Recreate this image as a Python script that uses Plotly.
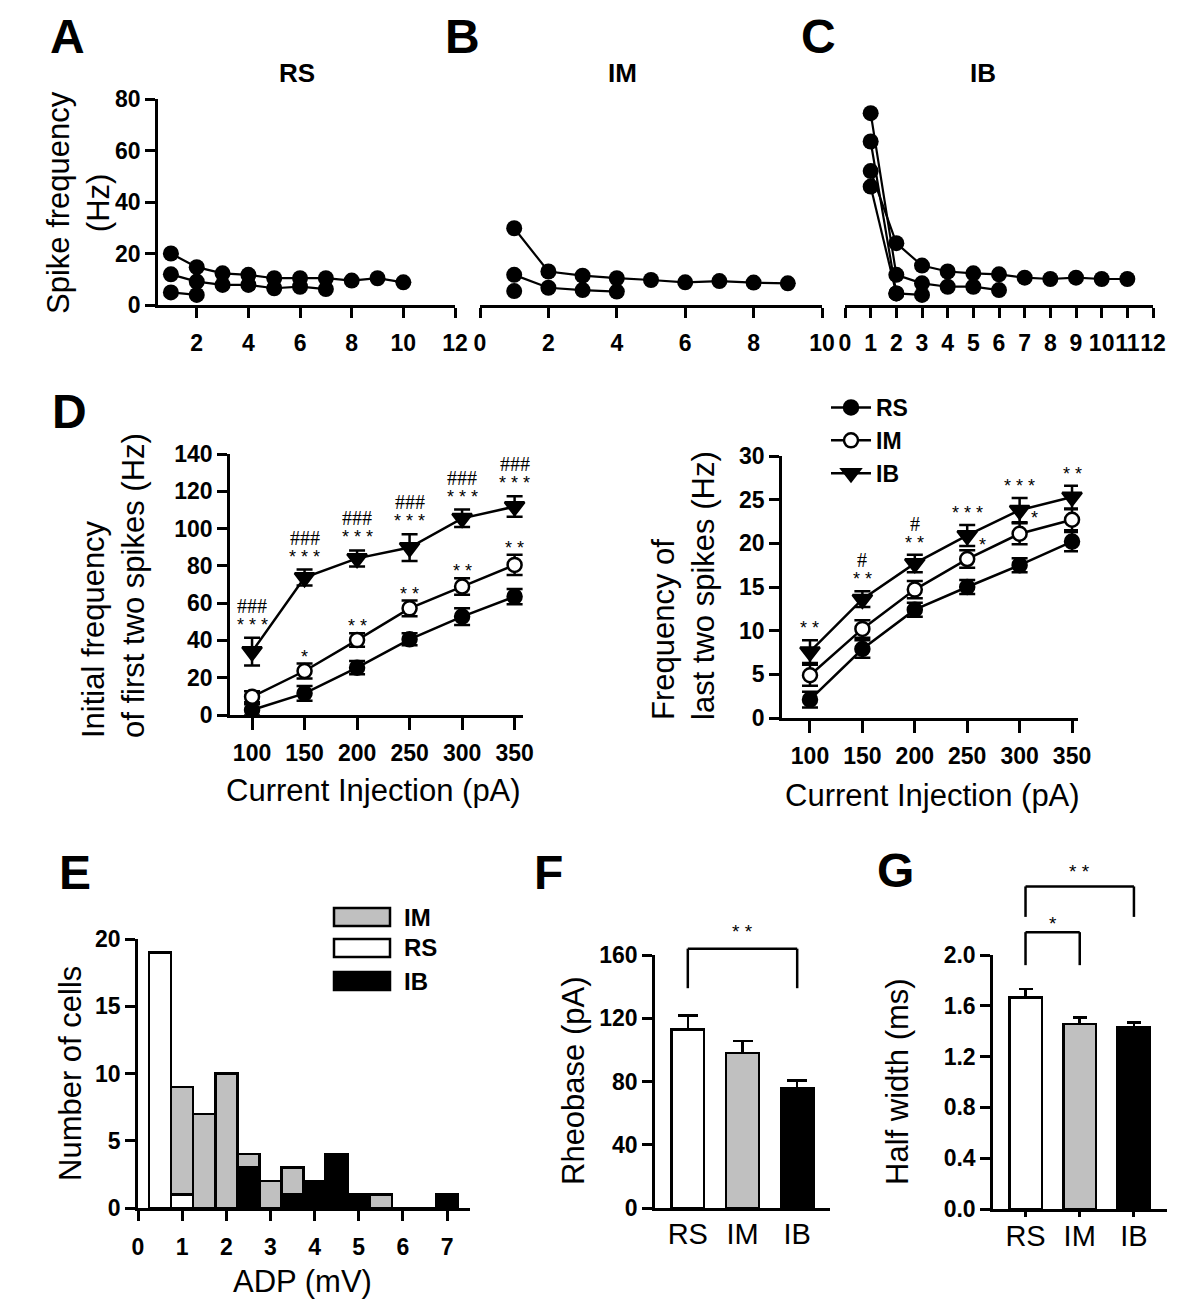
import plotly.graph_objects as go

W, H = 1200, 1316
OFF = 8  # default page body margin in the written html
FONT = "Arial, Liberation Sans, sans-serif"
SERIF = "Liberation Serif, Times New Roman, serif"

# ---------------- data ----------------
# Panels A-C: spike frequency vs spike interval number, example cells
spike_idx = list(range(1, 13))
rs_cells = [
    [20.0, 14.7, 12.3, 11.7, 10.4, 10.4, 10.4, 9.5, 10.4, 8.8],
    [11.9, 9.1, 7.8, 7.8, 6.5, 7.1, 6.2],
    [4.9, 3.9],
]
im_cells = [
    [29.8, 13.0, 11.4, 10.4, 9.7, 8.8, 9.3, 8.7, 8.4],
    [11.7, 6.7, 5.8, 5.2],
    [5.4],
]
ib_cells = [
    [52.0, 24.0, 15.3, 13.0, 12.3, 11.9, 10.6, 10.1, 10.6, 10.1, 10.1],
    [74.5, 11.7, 8.4, 7.1, 7.1, 5.8],
    [63.5, 4.5, 3.9],
    [46.0, 4.5],
]

# Panel D
current = [100, 150, 200, 250, 300, 350]
d1_rs = [2.7, 11.6, 25.4, 40.6, 52.8, 63.5]
d1_rs_err = [3.0, 4.0, 3.6, 3.2, 4.5, 4.1]
d1_im = [9.8, 23.6, 40.2, 57.2, 68.9, 80.5]
d1_im_err = [3.0, 4.0, 3.6, 4.2, 4.4, 5.4]
d1_ib = [34.0, 73.7, 84.0, 89.8, 105.5, 111.8]
d1_ib_err = [7.5, 4.3, 4.3, 7.2, 4.7, 5.5]
d1_ib_hash = ["###", "###", "###", "###", "###", "###"]
d1_ib_star = ["***", "***", "***", "***", "***", "***"]
d1_im_star = ["", "*", "**", "**", "**", "**"]

d2_rs = [2.1, 7.9, 12.4, 15.0, 17.5, 20.2]
d2_rs_err = [0.9, 1.0, 0.8, 0.8, 0.8, 1.1]
d2_im = [4.9, 10.2, 14.7, 18.2, 21.1, 22.7]
d2_im_err = [1.2, 1.0, 1.0, 1.0, 1.2, 1.2]
d2_ib = [7.6, 13.6, 17.7, 20.9, 23.8, 25.3]
d2_ib_err = [1.3, 0.9, 1.0, 1.2, 1.4, 1.3]
d2_ib_hash = ["", "#", "#", "", "", ""]
d2_ib_star = ["**", "**", "**", "***", "***", "**"]
d2_im_star = ["", "", "", "*", "*", ""]

# Panel E: ADP histogram (stacked counts)
adp_bins = [0.5, 1.0, 1.5, 2.0, 2.5, 3.0, 3.5, 4.0, 4.5, 5.0, 5.5, 6.0, 6.5, 7.0]
e_rs = [19, 1, 0, 0, 0, 0, 0, 0, 0, 0, 0, 0, 0, 0]
e_ib = [0, 0, 0, 0, 3, 0, 1, 2, 4, 1, 0, 0, 0, 1]
e_im = [0, 8, 7, 10, 1, 2, 2, 0, 0, 0, 1, 0, 0, 0]

# Panels F, G
groups = ["RS", "IM", "IB"]
group_colors = ["white", "#c0c0c0", "black"]
rheobase = [112.9, 98.1, 76.0]
rheobase_err = [9.0, 7.4, 4.6]
half_width = [1.664, 1.457, 1.430]
half_width_err = [0.07, 0.05, 0.04]
# significance brackets: (group i, group j, label, leg bottom, bracket top, label y)
f_sig = [(0, 2, "**", 139, 164, 175)]
g_sig = [(0, 1, "*", 1.92, 2.18, 2.25), (0, 2, "**", 2.30, 2.54, 2.66)]


# ---------------- helpers ----------------
FW, FH = W - OFF, H - OFF


def px(x):
    return (x - OFF) / FW


def py(y):
    return 1 - (y - OFF) / FH


def dom(v, r):
    return (v - r[0]) / (r[1] - r[0])


fig = go.Figure()

tick_font = dict(family=FONT, size=23, color="black", weight="bold")


def axis_style(**kw):
    d = dict(showline=True, linecolor="black", linewidth=2.5, ticks="outside",
             ticklen=10, tickwidth=2.5, tickcolor="black", showgrid=False,
             zeroline=False, tickfont=tick_font, automargin=False, tickangle=0)
    d.update(kw)
    return d


def add_cells(cells, xa, ya):
    for c in cells:
        fig.add_trace(go.Scatter(
            x=spike_idx[:len(c)], y=c, mode="lines+markers",
            line=dict(color="black", width=2.2),
            marker=dict(color="black", size=16),
            xaxis=xa, yaxis=ya, showlegend=False, cliponaxis=False,
            hoverinfo="skip"))


add_cells(rs_cells, "x", "y")
add_cells(im_cells, "x2", "y2")
add_cells(ib_cells, "x3", "y3")

# Panel D
series_style = {
    "RS": dict(symbol="circle", color="black", size=14),
    "IM": dict(symbol="circle", color="white", size=14),
    "IB": dict(symbol="triangle-down", color="black", size=17),
}


def add_d(xa, ya, data, show):
    for name, vals, err in data:
        st = series_style[name]
        fig.add_trace(go.Scatter(
            x=current, y=vals, name=name, mode="lines+markers",
            line=dict(color="black", width=2.5),
            marker=dict(symbol=st["symbol"], color=st["color"], size=st["size"],
                        line=dict(color="black", width=2.5)),
            error_y=dict(type="data", array=err, color="black", thickness=2.5, width=8),
            xaxis=xa, yaxis=ya, showlegend=show, cliponaxis=False, legend="legend"))


add_d("x4", "y4", [("RS", d1_rs, d1_rs_err), ("IM", d1_im, d1_im_err), ("IB", d1_ib, d1_ib_err)], False)
add_d("x5", "y5", [("RS", d2_rs, d2_rs_err), ("IM", d2_im, d2_im_err), ("IB", d2_ib, d2_ib_err)], True)

# Panel E stacked histogram
for name, vals, col in [("RS", e_rs, "white"), ("IB", e_ib, "black"), ("IM", e_im, "#c0c0c0")]:
    fig.add_trace(go.Bar(
        x=adp_bins, y=vals, width=0.5, name=name,
        marker=dict(color=col, line=dict(color="black", width=2.5)),
        xaxis="x6", yaxis="y6", showlegend=False))

# Panels F and G
for xa, ya, vals, err, cap in [("x7", "y7", rheobase, rheobase_err, 10),
                               ("x8", "y8", half_width, half_width_err, 7)]:
    fig.add_trace(go.Bar(
        x=groups, y=vals, width=0.6,
        marker=dict(color=group_colors, line=dict(color="black", width=2.5)),
        error_y=dict(type="data", array=err, arrayminus=[0] * len(err), symmetric=False,
                     color="black", thickness=2.5, width=cap),
        xaxis=xa, yaxis=ya, showlegend=False))

# ---------------- layout / axes ----------------
rA = [0.5, 12]
rB = [0, 10]
rC = [0, 12]
rD1 = [79, 358]
rD2 = [73.3, 355.7]
rE = [0, 7.52]
rF = [-0.6, 2.6]
rG = [-0.6, 2.61]
yF = [0, 160]
yG = [0, 2.0]

topY = [py(305), py(99)]
fig.update_layout(
    width=FW, height=FH, margin=dict(l=0, r=0, t=0, b=0, pad=0, autoexpand=False),
    paper_bgcolor="white", plot_bgcolor="white", barmode="stack",
    font=dict(family=FONT, color="black"),
    xaxis=axis_style(domain=[px(158), px(455)], range=rA, tickvals=[2, 4, 6, 8, 10, 12],
                     anchor="y", ticklabelstandoff=6),
    yaxis=axis_style(domain=topY, range=[0, 80], dtick=20, anchor="x"),
    xaxis2=axis_style(domain=[px(480), px(822)], range=rB, dtick=2, anchor="y2",
                      ticklabelstandoff=6),
    yaxis2=dict(domain=topY, range=[0, 80], visible=False, anchor="x2"),
    xaxis3=axis_style(domain=[px(845), px(1153)], range=rC, dtick=1, anchor="y3",
                      ticklabelstandoff=6),
    yaxis3=dict(domain=topY, range=[0, 80], visible=False, anchor="x3"),
    xaxis4=axis_style(domain=[px(230), px(523)], range=rD1, tickvals=current, anchor="y4",
                      ticklen=12, ticklabelstandoff=4),
    yaxis4=axis_style(domain=[py(715), py(454)], range=[0, 140], dtick=20, anchor="x4"),
    xaxis5=axis_style(domain=[px(782), px(1078)], range=rD2, tickvals=current, anchor="y5",
                      ticklen=12, ticklabelstandoff=4),
    yaxis5=axis_style(domain=[py(718), py(456)], range=[0, 30], dtick=5, anchor="x5"),
    xaxis6=axis_style(domain=[px(138), px(470)], range=rE, dtick=1, anchor="y6",
                      ticklabelstandoff=7),
    yaxis6=axis_style(domain=[py(1208), py(939)], range=[0, 20], dtick=5, anchor="x6"),
    xaxis7=axis_style(domain=[px(655), px(830)], range=rF, type="category", anchor="y7",
                      ticklen=0, ticklabelstandoff=-2,
                      tickfont=dict(family=FONT, size=29, color="black")),
    yaxis7=axis_style(domain=[py(1208), py(955)], range=yF, dtick=40, anchor="x7"),
    xaxis8=axis_style(domain=[px(993), px(1167)], range=rG, type="category", anchor="y8",
                      ticklen=5, ticklabelstandoff=-6,
                      tickfont=dict(family=FONT, size=29, color="black")),
    yaxis8=axis_style(domain=[py(1209), py(955)], range=yG, dtick=0.4, tickformat=".1f",
                      anchor="x8"),
    legend=dict(x=px(826), y=py(386), xanchor="left", yanchor="top",
                traceorder="normal",
                font=dict(family=FONT, size=23, color="black", weight="bold"),
                bgcolor="rgba(0,0,0,0)", tracegroupgap=0, itemwidth=40),
)

ann = []


def text(x, y, s, size, bold=False, angle=0, align="center", family=FONT):
    ann.append(dict(xref="paper", yref="paper", x=px(x), y=py(y), text=s,
                    showarrow=False, textangle=angle, align=align,
                    xanchor="center", yanchor="middle",
                    font=dict(family=family, size=size, color="black",
                              weight="bold" if bold else "normal")))


# Panel letters and titles
for lab, x, y in [("A", 68, 37), ("B", 462, 37), ("C", 818, 37), ("D", 69, 411),
                  ("E", 75, 872), ("F", 548, 872), ("G", 895, 870)]:
    text(x, y, lab, 48, bold=True)
for lab, x in [("RS", 297), ("IM", 622), ("IB", 983)]:
    text(x, 73, lab, 26, bold=True)

# Axis titles
text(79, 203, "Spike frequency<br>(Hz)", 31, angle=-90)
text(113, 586, "Initial frequency<br>of first two spikes (Hz)", 31, angle=-90, align="left")
text(683, 586, "Frequency of<br>last two spikes (Hz)", 31, angle=-90, align="left")
text(374, 790, "Current Injection (pA)", 31)
text(933, 795, "Current Injection (pA)", 31)
text(70, 1074, "Number of cells", 31, angle=-90)
text(302, 1281, "ADP (mV)", 31)
text(573, 1081, "Rheobase (pA)", 31, angle=-90)
text(897, 1082, "Half width (ms)", 31, angle=-90)


# Significance markers in D
def sig(xa, ya, xs, ys, errs, labels, shift, serif=False, xshift=0):
    for xv, yv, ev, lab in zip(xs, ys, errs, labels):
        if not lab:
            continue
        s = lab if serif else " ".join(lab)
        ann.append(dict(xref=xa, yref=ya, x=xv, y=yv + ev, text=s, showarrow=False,
                        xanchor="center", yanchor="middle", yshift=shift, xshift=xshift,
                        font=dict(family=SERIF if serif else FONT,
                                  size=20 if serif else 18, color="black")))


sig("x4", "y4", current, d1_ib, d1_ib_err, d1_ib_star, 13)
sig("x4", "y4", current, d1_ib, d1_ib_err, d1_ib_hash, 32, serif=True)
sig("x4", "y4", current, d1_im, d1_im_err, d1_im_star, 7)
sig("x5", "y5", current, d2_ib, d2_ib_err, d2_ib_star, 12)
sig("x5", "y5", current, d2_ib, d2_ib_err, d2_ib_hash, 31, serif=True)
sig("x5", "y5", current, d2_im, d2_im_err, d2_im_star, 5, xshift=15)

# Brackets for F and G (drawn in axis-domain coordinates so they may extend above the axis)
shapes = []


def brackets(xa, ya, rx, ry, specs):
    for i, j, lab, leg, top, ly in specs:
        xi, xj = dom(i, rx), dom(j, rx)
        yl, yt = dom(leg, ry), dom(top, ry)
        for (x0, y0, x1, y1) in [(xi, yl, xi, yt), (xi, yt, xj, yt), (xj, yt, xj, yl)]:
            shapes.append(dict(type="line", xref=xa + " domain", yref=ya + " domain",
                               x0=x0, y0=y0, x1=x1, y1=y1,
                               line=dict(color="black", width=2.5)))
        ann.append(dict(xref=xa + " domain", yref=ya + " domain", x=(xi + xj) / 2,
                        y=dom(ly, ry), text=" ".join(lab), showarrow=False,
                        xanchor="center", yanchor="middle",
                        font=dict(family=FONT, size=19, color="black")))


brackets("x7", "y7", rF, yF, f_sig)
brackets("x8", "y8", rG, yG, g_sig)

# Legend for E (patches)
for lab, col, yc in [("IM", "#c0c0c0", 917), ("RS", "white", 948), ("IB", "black", 981)]:
    shapes.append(dict(type="rect", xref="paper", yref="paper",
                       x0=px(334), x1=px(390), y0=py(yc + 9), y1=py(yc - 9),
                       fillcolor=col, line=dict(color="black", width=2.5)))
    ann.append(dict(xref="paper", yref="paper", x=px(402), y=py(yc), text=lab,
                    showarrow=False, xanchor="left", yanchor="middle",
                    font=dict(family=FONT, size=24, color="black", weight="bold")))

fig.update_layout(annotations=ann, shapes=shapes)
fig.write_html("out.html")
